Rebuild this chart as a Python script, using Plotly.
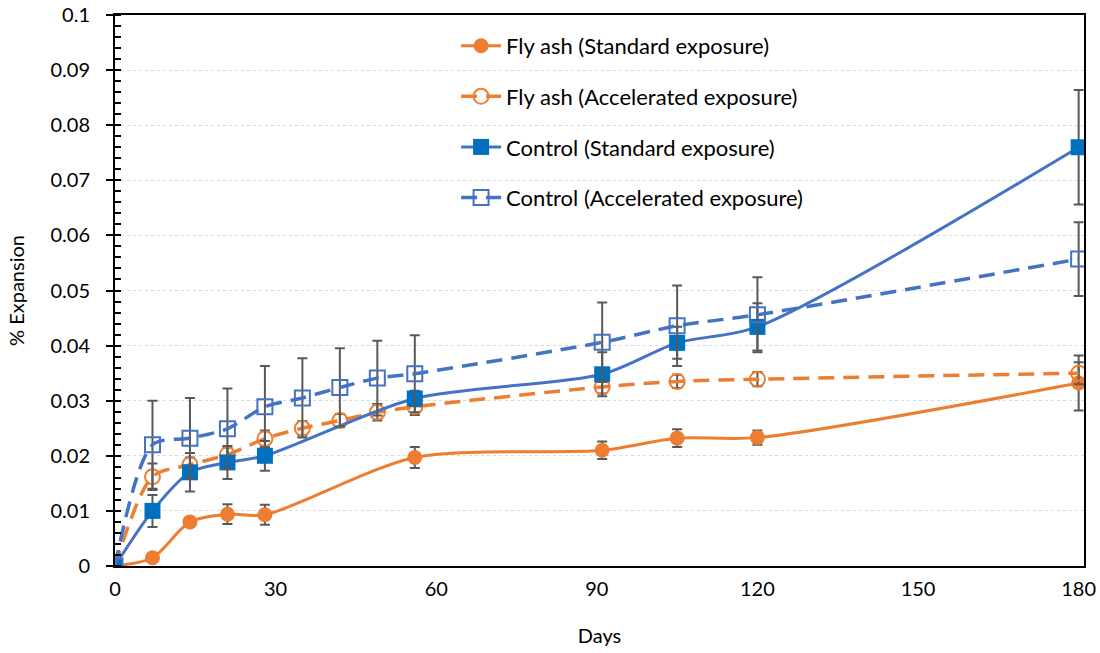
import plotly.graph_objects as go

# ---------------- data ----------------
days_std = [0, 7, 14, 21, 28, 56, 91, 105, 120, 180]
days_acc = [0, 7, 14, 21, 28, 35, 42, 49, 56, 91, 105, 120, 180]

flyash_std = [0, 0.0015, 0.0080, 0.0094, 0.0093, 0.0197, 0.0210, 0.0232, 0.0233, 0.0332]
flyash_std_err = [0, 0.0005, 0.0006, 0.0018, 0.0018, 0.0019, 0.0016, 0.0016, 0.0013, 0.0050]

flyash_acc = [0, 0.0162, 0.0184, 0.0202, 0.0231, 0.0250, 0.0264, 0.0279, 0.0289, 0.0325, 0.0335, 0.0339, 0.0350]
flyash_acc_err = [0, 0.0024, 0.0013, 0.0013, 0.0015, 0.0013, 0.0012, 0.0015, 0.0015, 0.0012, 0.0012, 0.0013, 0.0020]

control_std = [0, 0.0100, 0.0170, 0.0188, 0.0200, 0.0304, 0.0348, 0.0405, 0.0434, 0.0760]
control_std_err = [0, 0.0029, 0.0035, 0.0030, 0.0027, 0.0014, 0.0040, 0.0029, 0.0043, 0.0104]

control_acc = [0, 0.0220, 0.0232, 0.0249, 0.0289, 0.0305, 0.0324, 0.0341, 0.0349, 0.0406, 0.0436, 0.0456, 0.0557]
control_acc_err = [0, 0.0080, 0.0073, 0.0073, 0.0074, 0.0072, 0.0071, 0.0068, 0.0070, 0.0072, 0.0073, 0.0068, 0.0067]

x_ticks = [0, 30, 60, 90, 120, 150, 180]
y_ticks = [0, 0.01, 0.02, 0.03, 0.04, 0.05, 0.06, 0.07, 0.08, 0.09, 0.1]
y_ticktext = ["0", "0.01", "0.02", "0.03", "0.04", "0.05", "0.06", "0.07", "0.08", "0.09", "0.1"]

ORANGE = "#ED7D31"
BLUE = "#4472C4"
BLUE_DARK = "#0070C0"
ERR = "#595959"
FONT = "Lato"
DASH = "16px,9px"

def err(vals):
    return dict(type="data", array=vals, visible=True, color=ERR, thickness=2, width=5)

fig = go.Figure()

fig.add_trace(go.Scatter(
    x=days_std, y=flyash_std, name="Fly ash (Standard exposure)", legendgroup="a",
    mode="lines+markers", line=dict(color=ORANGE, width=3, shape="spline", smoothing=0.8),
    marker=dict(symbol="circle", size=15, color=ORANGE),
    error_y=err(flyash_std_err)))

fig.add_trace(go.Scatter(
    x=days_acc, y=flyash_acc, name="Fly ash (Accelerated exposure)", legendgroup="b",
    mode="lines+markers", line=dict(color=ORANGE, width=3.5, dash=DASH, shape="spline", smoothing=0.8),
    marker=dict(symbol="circle-open", size=15, color=ORANGE, line=dict(width=2, color=ORANGE)),
    error_y=err(flyash_acc_err)))

fig.add_trace(go.Scatter(
    x=days_std, y=control_std, name="Control (Standard exposure)", legendgroup="c",
    mode="lines+markers", line=dict(color=BLUE, width=3, shape="spline", smoothing=0.8),
    marker=dict(symbol="square", size=16, color=BLUE_DARK, line=dict(width=0)),
    error_y=err(control_std_err)))

fig.add_trace(go.Scatter(
    x=days_acc, y=control_acc, name="Control (Accelerated exposure)", legendgroup="d",
    mode="lines+markers", line=dict(color=BLUE, width=3.5, dash=DASH, shape="spline", smoothing=0.8),
    marker=dict(symbol="square-open", size=15, color=BLUE, line=dict(width=2, color=BLUE)),
    error_y=err(control_acc_err)))

fig.update_layout(
    width=1100, height=653,
    margin=dict(l=115, r=16, t=15, b=87, autoexpand=False),
    paper_bgcolor="white", plot_bgcolor="white",
    font=dict(family=FONT, size=20, color="#000000"),
    showlegend=True,
    legend=dict(
        x=0.352, y=0.982, xanchor="left", yanchor="top",
        bgcolor="rgba(0,0,0,0)", borderwidth=0,
        font=dict(family=FONT, size=22, color="#000000"),
        traceorder="grouped", tracegroupgap=19,
        itemwidth=40,
    ),
    xaxis=dict(
        range=[0, 181], tickvals=x_ticks, ticks="", ticklen=0, showgrid=False, zeroline=False,
        showline=True, linecolor="#000000", linewidth=2, mirror=True, automargin=False,
        tickfont=dict(family=FONT, size=20), ticklabelstandoff=4,
        title=dict(text="Days", font=dict(family=FONT, size=20), standoff=30),
    ),
    yaxis=dict(
        range=[0, 0.1], tickvals=y_ticks, ticktext=y_ticktext,
        ticks="outside", ticklen=7, tickwidth=2, tickcolor="#000000",
        showgrid=True, gridcolor="#D9D9D9", griddash="dot", gridwidth=1,
        zeroline=False, showline=True, linecolor="#000000", linewidth=2, mirror=True, automargin=False,
        minor=dict(dtick=0.002, ticks="inside", ticklen=6, tickwidth=1.5, tickcolor="#000000", showgrid=False),
        tickfont=dict(family=FONT, size=20), ticklabelstandoff=12,
        title=dict(text="% Expansion", font=dict(family=FONT, size=20), standoff=20),
    ),
)

# remove the default 8px page margin so the figure sits at the window's top-left corner
fig.write_html("out.html", config={"displayModeBar": False},
               post_script="document.body.style.margin='0';")
